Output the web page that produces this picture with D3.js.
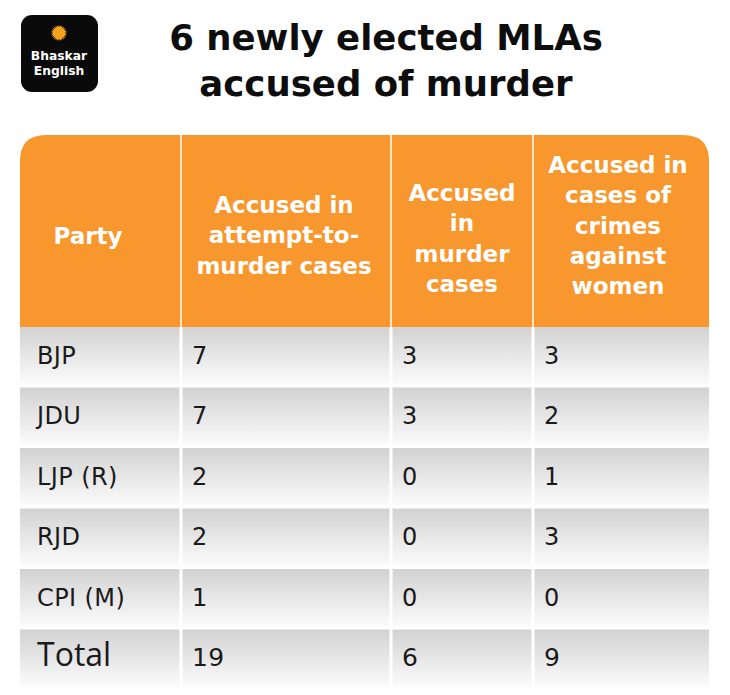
<!DOCTYPE html>
<html>
<head>
<meta charset="utf-8">
<script src="https://cdn.jsdelivr.net/npm/d3@7"></script>
<style>
  html, body { margin: 0; padding: 0; background: #fff; }
  svg { display: block; }
</style>
</head>
<body>
<svg id="chart" width="730" height="695"></svg>
<script>
// ---- DATA ----
const titleLines = ["6 newly elected MLAs", "accused of murder"];
const logoLines = ["Bhaskar", "English"];
const headers = [
  ["Party"],
  ["Accused in", "attempt-to-", "murder cases"],
  ["Accused", "in", "murder", "cases"],
  ["Accused in", "cases of", "crimes", "against", "women"]
];
const parties = ["BJP", "JDU", "LJP (R)", "RJD", "CPI (M)", "Total"];
const attemptToMurder = [7, 7, 2, 2, 1, 19];
const murder = [3, 3, 0, 0, 0, 6];
const crimesAgainstWomen = [3, 2, 1, 3, 0, 9];

// ---- LAYOUT ----
const svg = d3.select("#chart");
const orange = "#f7972e";
const boldFont = "DejaVu Sans, sans-serif";
const bodyFont = "DejaVu Sans, sans-serif";
const colEdges = [20, 181, 391, 533, 709];
const headerTop = 135, headerBottom = 327;
const rowsTop = 327, rowsBottom = 687;
const headerFirstBaseline = [244, 213, 201, 173];
const headerCenterX = [88, 284, 462, 618];
const headerLH = 30.3;
const cols = d3.range(4);

const y = d3.scaleBand().domain(d3.range(parties.length)).range([rowsTop, rowsBottom]).paddingInner(0.05).paddingOuter(0.0);

const defs = svg.append("defs");
const grad = defs.append("linearGradient").attr("id", "rowGrad").attr("x1", 0).attr("y1", 0).attr("x2", 0).attr("y2", 1);
grad.append("stop").attr("offset", "0%").attr("stop-color", "#d2d2d2");
grad.append("stop").attr("offset", "55%").attr("stop-color", "#e9e9e9");
grad.append("stop").attr("offset", "100%").attr("stop-color", "#fbfbfb");

// ---- LOGO ----
const logo = svg.append("g");
logo.append("rect").attr("x", 21).attr("y", 15).attr("width", 77).attr("height", 77).attr("rx", 11).attr("fill", "#0a0a0a");
const sun = logo.append("g").attr("transform", "translate(59,33)");
sun.selectAll("line").data(d3.range(28)).join("line")
  .attr("x1", d => 5 * Math.cos(d / 28 * 2 * Math.PI)).attr("y1", d => 5 * Math.sin(d / 28 * 2 * Math.PI))
  .attr("x2", d => 7.4 * Math.cos(d / 28 * 2 * Math.PI)).attr("y2", d => 7.4 * Math.sin(d / 28 * 2 * Math.PI))
  .attr("stroke", "#f7a21b").attr("stroke-width", 1);
sun.append("circle").attr("r", 6.2).attr("fill", "#f7a21b");
logo.selectAll("text.logo").data(logoLines).join("text")
  .attr("class", "logo")
  .attr("x", 59).attr("y", (d, i) => 60 + i * 15)
  .attr("text-anchor", "middle")
  .attr("font-family", boldFont).attr("font-weight", 700).attr("font-size", 12.3)
  .attr("fill", "#fff").text(d => d);

// ---- TITLE ----
svg.selectAll("text.title").data(titleLines).join("text")
  .attr("class", "title")
  .attr("x", 386).attr("y", (d, i) => 50 + i * 46)
  .attr("text-anchor", "middle")
  .attr("font-family", boldFont).attr("font-weight", 700).attr("font-size", 35.5)
  .attr("fill", "#0d0d0d").text(d => d);

// ---- HEADER ----
const r = 26;
const hx0 = colEdges[0], hx1 = colEdges[4];
const headerPath = `M${hx0},${headerBottom} L${hx0},${headerTop + r} Q${hx0},${headerTop} ${hx0 + r},${headerTop} L${hx1 - r},${headerTop} Q${hx1},${headerTop} ${hx1},${headerTop + r} L${hx1},${headerBottom} Z`;
svg.append("path").attr("d", headerPath).attr("fill", orange);
svg.selectAll("line.hdiv").data(colEdges.slice(1, 4)).join("line")
  .attr("class", "hdiv")
  .attr("x1", d => d).attr("x2", d => d).attr("y1", headerTop).attr("y2", headerBottom)
  .attr("stroke", "#fbe3c6").attr("stroke-width", 2);

cols.forEach(c => {
  svg.append("g").selectAll("text").data(headers[c]).join("text")
    .attr("x", headerCenterX[c]).attr("y", (d, i) => headerFirstBaseline[c] + i * headerLH)
    .attr("text-anchor", "middle")
    .attr("font-family", boldFont).attr("font-weight", 700).attr("font-size", 23)
    .attr("fill", "#fff").text(d => d);
});

// ---- BODY ROWS ----
const rowData = parties.map((p, i) => [p, attemptToMurder[i], murder[i], crimesAgainstWomen[i]]);
const rows = svg.append("g").selectAll("g.row").data(rowData).join("g").attr("class", "row");
rows.each(function (d, i) {
  const g = d3.select(this);
  const isTotal = i === parties.length - 1;
  cols.forEach(c => {
    const x0 = colEdges[c] + (c === 0 ? 0 : 1.5);
    const x1 = colEdges[c + 1] - (c === 3 ? 0 : 1.5);
    g.append("rect")
      .attr("x", x0).attr("y", y(i)).attr("width", x1 - x0).attr("height", y.bandwidth())
      .attr("fill", "url(#rowGrad)");
    const big = isTotal && c === 0;
    g.append("text")
      .attr("x", colEdges[c] + (c === 0 ? 17 : 11))
      .attr("y", y(i) + y.bandwidth() / 2 + 8)
      .attr("font-family", big ? "Open Sans, sans-serif" : bodyFont)
      .attr("font-size", big ? 32 : (isTotal ? 25 : 24))
      .attr("letter-spacing", big ? 0 : 0.4)
      .attr("fill", "#1a1a1a")
      .text(d[c]);
  });
});
</script>
</body>
</html>
